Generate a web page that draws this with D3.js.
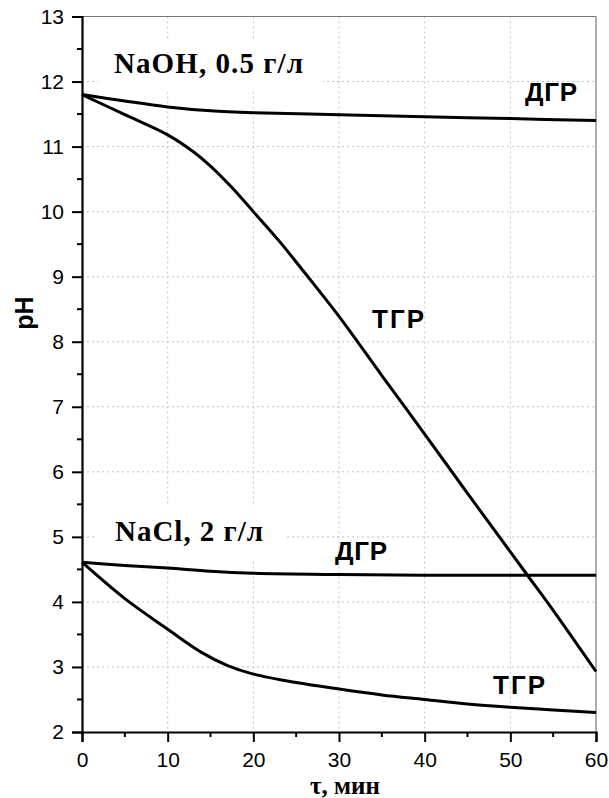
<!DOCTYPE html>
<html><head><meta charset="utf-8">
<script src="https://cdn.jsdelivr.net/npm/d3@7"></script>
<style>body{margin:0;background:#fff}svg{display:block}</style>
</head><body>
<svg id="c" width="609" height="798"></svg>
<script>
const xTicks = [0,10,20,30,40,50,60];
const yTicks = [2,3,4,5,6,7,8,9,10,11,12,13];
const naohDGR = [[0,11.8],[5,11.7],[10,11.61],[15,11.55],[20,11.52],[30,11.49],[40,11.46],[50,11.43],[60,11.40]];
const naohTGR = [[0,11.8],[5,11.49],[10,11.18],[13,10.92],[15,10.7],[17.5,10.37],[20,10.0],[23,9.55],[26,9.06],[30,8.39],[35,7.48],[40,6.58],[45,5.67],[50,4.77],[52,4.41],[55,3.87],[60,2.93]];
const naclDGR = [[0,4.61],[5,4.56],[10,4.52],[15,4.47],[20,4.44],[30,4.42],[40,4.41],[50,4.41],[60,4.41]];
const naclTGR = [[0,4.61],[5,4.05],[10,3.58],[14,3.22],[17,3.02],[20,2.89],[25,2.76],[30,2.66],[35,2.57],[40,2.5],[45,2.43],[50,2.38],[55,2.34],[60,2.30]];

const svg = d3.select("#c");
const x = d3.scaleLinear().domain([0,60]).range([82,596]);
const y = d3.scaleLinear().domain([2,13]).range([732,16.5]);

// grid
const g = svg.append("g");
g.selectAll("line.vg").data(xTicks.slice(1,-1)).join("line")
  .attr("x1",d=>x(d)).attr("x2",d=>x(d)).attr("y1",y(13)).attr("y2",y(2))
  .attr("stroke","#c4c4c4").attr("stroke-width",1).attr("stroke-dasharray","2,3");
g.selectAll("line.hg").data(yTicks.slice(1,-1)).join("line")
  .attr("x1",x(0)).attr("x2",x(60)).attr("y1",d=>y(d)).attr("y2",d=>y(d))
  .attr("stroke","#c4c4c4").attr("stroke-width",1).attr("stroke-dasharray","2,3");

// frame top/right
svg.append("line").attr("x1",x(0)).attr("x2",x(60)).attr("y1",y(13)).attr("y2",y(13)).attr("stroke","#777").attr("stroke-width",1.2);
svg.append("line").attr("x1",x(60)).attr("x2",x(60)).attr("y1",y(13)).attr("y2",y(2)).attr("stroke","#777").attr("stroke-width",1.2);

// label backgrounds
svg.append("rect").attr("x",98).attr("y",40).attr("width",225).attr("height",52).attr("fill","#fff");
svg.append("rect").attr("x",96).attr("y",507).attr("width",190).attr("height",52).attr("fill","#fff");

// curves
const line = d3.line().x(d=>x(d[0])).y(d=>y(d[1])).curve(d3.curveCatmullRom.alpha(0.5));
[naohDGR,naohTGR,naclDGR,naclTGR].forEach(s=>{
  svg.append("path").attr("d",line(s)).attr("fill","none").attr("stroke","#000").attr("stroke-width",3).attr("stroke-linejoin","round");
});

// axes
const yAxis = d3.axisLeft(y).tickValues(yTicks).tickSize(10).tickPadding(8).tickFormat(d3.format("d"));
const ya = svg.append("g").attr("transform",`translate(${x(0)},0)`).call(yAxis);
ya.select(".domain").attr("stroke-width",2.2);
ya.selectAll(".tick line").attr("stroke-width",2);
ya.selectAll("text").attr("font-family","Liberation Sans, Arial, sans-serif").attr("font-size",21).attr("fill","#000");
const yMinor = yTicks.slice(0,-1).map(d=>d+0.5);
svg.append("g").selectAll("line").data(yMinor).join("line")
  .attr("x1",x(0)-5).attr("x2",x(0)).attr("y1",d=>y(d)).attr("y2",d=>y(d)).attr("stroke","#000").attr("stroke-width",2);

const xAxis = d3.axisBottom(x).tickValues(xTicks).tickSize(10).tickPadding(10);
const xa = svg.append("g").attr("transform",`translate(0,${y(2)})`).call(xAxis);
xa.select(".domain").attr("stroke-width",2.2);
xa.selectAll(".tick line").attr("stroke-width",2);
xa.selectAll("text").attr("font-family","Liberation Sans, Arial, sans-serif").attr("font-size",21).attr("fill","#000");
const xMinor = xTicks.slice(0,-1).map(d=>d+5);
svg.append("g").selectAll("line").data(xMinor).join("line")
  .attr("x1",d=>x(d)).attr("x2",d=>x(d)).attr("y1",y(2)).attr("y2",y(2)+5).attr("stroke","#000").attr("stroke-width",2);

// titles
svg.append("text").attr("x",345).attr("y",794).attr("text-anchor","middle")
  .attr("font-family","Liberation Serif, Times New Roman, serif").attr("font-weight","bold").attr("font-size",25).text("τ, мин");
svg.append("text").attr("transform","translate(33,313) rotate(-90)").attr("text-anchor","middle")
  .attr("font-family","Liberation Sans, Arial, sans-serif").attr("font-weight","bold").attr("font-size",25).text("pH");

// annotations
const serif = "Liberation Serif, Times New Roman, serif";
const sans = "Liberation Sans, Arial, sans-serif";
svg.append("text").attr("x",114).attr("y",73).attr("font-family",serif).attr("font-weight","bold").attr("font-size",29).attr("textLength",189).text("NaOH, 0.5 г/л");
svg.append("text").attr("x",115).attr("y",541).attr("font-family",serif).attr("font-weight","bold").attr("font-size",29).attr("textLength",148).text("NaCl, 2 г/л");
const lbl = [["ДГР",525,101],["ТГР",372,328],["ДГР",335,560],["ТГР",493,694]];
lbl.forEach(l=>svg.append("text").attr("x",l[1]).attr("y",l[2]).attr("font-family",sans).attr("font-weight","bold").attr("font-size",26).attr("textLength",52).text(l[0]));
</script>
</body></html>
